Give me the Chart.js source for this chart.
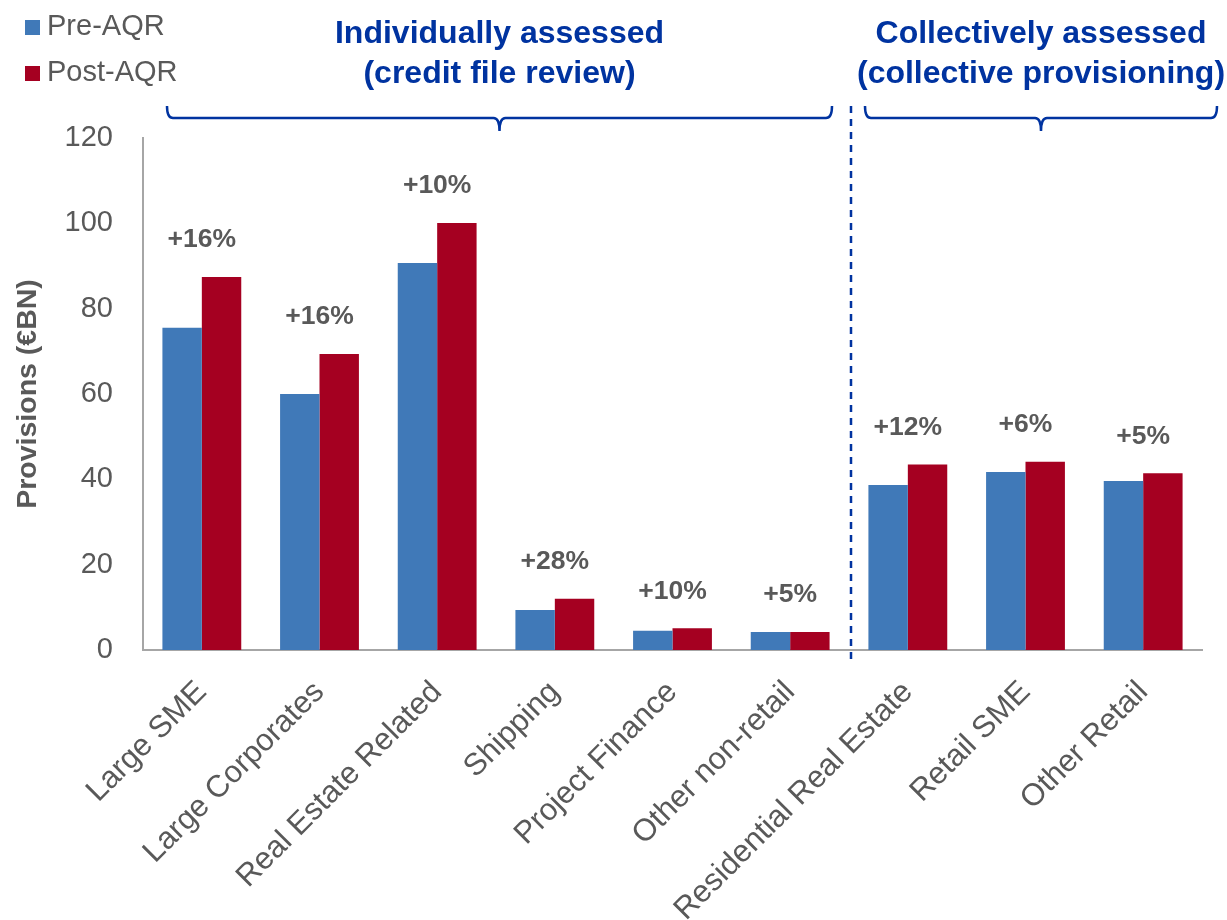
<!DOCTYPE html>
<html>
<head>
<meta charset="utf-8">
<script src="https://cdn.jsdelivr.net/npm/chart.js@4.4.1/dist/chart.umd.min.js"></script>
<style>
    html, body { margin: 0; padding: 0; background: #fff; }
    #wrap { width: 1227px; height: 920px; }
</style>
</head>
<body>
<div id="wrap"><canvas id="chart" width="1227" height="920"></canvas></div>
<script>
// datos
const categories = ['Large SME', 'Large Corporates', 'Real Estate Related', 'Shipping', 'Project Finance',
    'Other non-retail', 'Residential Real Estate', 'Retail SME', 'Other Retail'];
const preAQR = [75.5, 60.0, 90.7, 9.4, 4.5, 4.2, 38.7, 41.7, 39.6];
const postAQR = [87.4, 69.4, 100.1, 12.0, 5.1, 4.2, 43.5, 44.1, 41.4];
const changes = ['+16%', '+16%', '+10%', '+28%', '+10%', '+5%', '+12%', '+6%', '+5%'];
const seriesNames = ['Pre-AQR', 'Post-AQR'];
const groupTitles = [
    ['Individually assessed', '(credit file review)'],
    ['Collectively assessed', '(collective provisioning)']
];
const groupRanges = [[0, 5], [6, 8]];

const BLUE = '#4079B8';
const RED = '#A50021';
const GREY = '#595959';
const NAVY = '#0033A0';
const FONT = '"Liberation Sans", Arial, sans-serif';

const extras = {
    id: 'extras',
    afterDatasetsDraw(chart) {
        const ctx = chart.ctx;
        const x = chart.scales.x;
        const y = chart.scales.y;
        const half = (x.getPixelForValue(1) - x.getPixelForValue(0)) / 2;

        // etiquetas de variacion
        ctx.save();
        ctx.fillStyle = GREY;
        ctx.font = 'bold 26.5px ' + FONT;
        ctx.textAlign = 'center';
        ctx.textBaseline = 'middle';
        changes.forEach((txt, i) => {
            const top = y.getPixelForValue(Math.max(preAQR[i], postAQR[i]));
            ctx.fillText(txt, x.getPixelForValue(i), top - 37);
        });
        ctx.restore();

        // linea divisoria
        const split = x.getPixelForValue(groupRanges[1][0]) - half + 2;
        ctx.save();
        ctx.strokeStyle = NAVY;
        ctx.lineWidth = 2.5;
        ctx.setLineDash([7, 6]);
        ctx.beginPath();
        ctx.moveTo(split, 106);
        ctx.lineTo(split, 663);
        ctx.stroke();
        ctx.restore();

        // llaves y titulos
        const ends = [
            [x.getPixelForValue(groupRanges[0][0]) - half + 24, split - 19],
            [split + 14, x.getPixelForValue(groupRanges[1][1]) + half + 15]
        ];
        ctx.save();
        ctx.strokeStyle = NAVY;
        ctx.lineWidth = 2.5;
        ends.forEach(([l, r], g) => {
            const c = (l + r) / 2;
            const by = 118;
            ctx.beginPath();
            ctx.moveTo(l, 106);
            ctx.quadraticCurveTo(l, by, l + 6, by);
            ctx.lineTo(c - 6, by);
            ctx.quadraticCurveTo(c, by, c, by + 13);
            ctx.moveTo(c, by + 13);
            ctx.quadraticCurveTo(c, by, c + 6, by);
            ctx.lineTo(r - 6, by);
            ctx.quadraticCurveTo(r, by, r, 106);
            ctx.stroke();

            ctx.fillStyle = NAVY;
            ctx.font = 'bold 32px ' + FONT;
            ctx.textAlign = 'center';
            ctx.textBaseline = 'middle';
            ctx.fillText(groupTitles[g][0], c, 34);
            ctx.fillText(groupTitles[g][1], c, 74);
        });
        ctx.restore();

        // leyenda
        ctx.save();
        ctx.font = '29px ' + FONT;
        ctx.textBaseline = 'middle';
        ctx.textAlign = 'left';
        [BLUE, RED].forEach((col, i) => {
            const cy = 27 + i * 46;
            ctx.fillStyle = col;
            ctx.fillRect(25, cy - 7, 15, 15);
            ctx.fillStyle = GREY;
            ctx.fillText(seriesNames[i], 47, cy);
        });
        ctx.restore();
    }
};

new Chart(document.getElementById('chart'), {
    type: 'bar',
    data: {
        labels: categories,
        datasets: [
            { label: seriesNames[0], data: preAQR, backgroundColor: BLUE },
            { label: seriesNames[1], data: postAQR, backgroundColor: RED }
        ]
    },
    options: {
        responsive: false,
        animation: false,
        layout: { padding: { top: 138, right: 25, left: 0, bottom: 0 } },
        datasets: { bar: { categoryPercentage: 0.67, barPercentage: 1 } },
        plugins: { legend: { display: false }, tooltip: { enabled: false } },
        scales: {
            x: {
                grid: { display: false, drawTicks: false },
                border: { display: true, color: '#A6A6A6', width: 2 },
                ticks: {
                    color: GREY, font: { family: FONT, size: 31 },
                    maxRotation: 45, minRotation: 45, padding: 24, autoSkip: false
                },
                afterFit(scale) { scale.height = 270; }
            },
            y: {
                min: 0, max: 120,
                grid: { display: false, drawTicks: false },
                border: { display: true, color: '#A6A6A6', width: 2 },
                ticks: { stepSize: 20, color: GREY, font: { family: FONT, size: 29 }, padding: 30 },
                title: {
                    display: true, text: 'Provisions (€BN)', color: GREY,
                    font: { family: FONT, size: 28.5, weight: 'bold' }, padding: { top: 11, bottom: 0 }
                },
                afterFit(scale) { scale.width = 143; }
            }
        }
    },
    plugins: [extras]
});
</script>
</body>
</html>
